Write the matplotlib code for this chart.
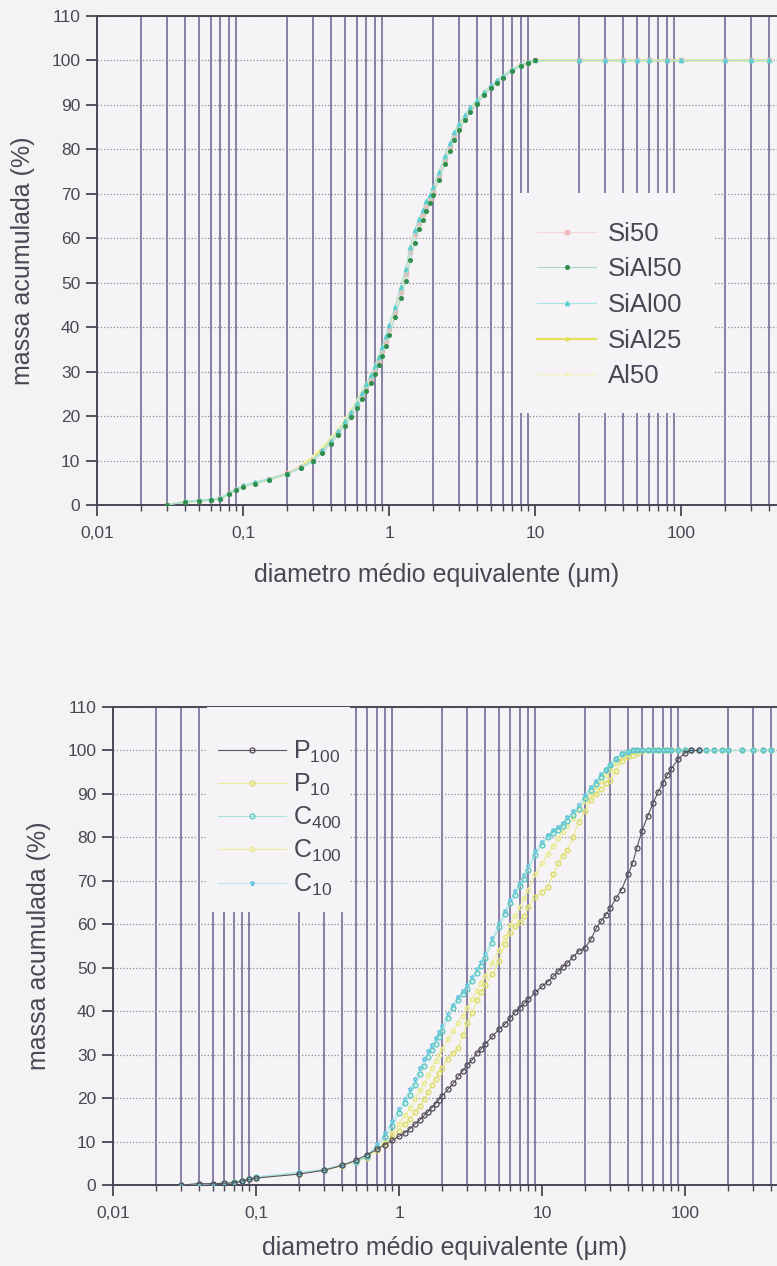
import numpy as np
import matplotlib
matplotlib.use('Agg')
import matplotlib.pyplot as plt
from matplotlib.ticker import LogLocator, FuncFormatter, NullFormatter, MultipleLocator
from matplotlib.patches import Rectangle

plt.rcParams['font.family'] = ['Liberation Sans', 'DejaVu Sans']
plt.rcParams['mathtext.fontset'] = 'custom'
plt.rcParams['mathtext.rm'] = 'Liberation Sans'
plt.rcParams['mathtext.it'] = 'Liberation Sans'
plt.rcParams['mathtext.default'] = 'regular'

nan = np.nan

# ---- painel superior: tamanhos (um) e massa acumulada (%)
tamanho_a = [
    0.03, 0.04, 0.05, 0.06, 0.07, 0.08, 0.09, 0.1, 0.12, 0.15,
    0.2, 0.25, 0.3, 0.35, 0.4, 0.45, 0.5, 0.55, 0.6, 0.65,
    0.7, 0.75, 0.8, 0.85, 0.9, 0.95, 1.0, 1.1, 1.2, 1.3,
    1.4, 1.5, 1.6, 1.7, 1.8, 1.9, 2.0, 2.2, 2.4, 2.6,
    2.8, 3.0, 3.3, 3.6, 4.0, 4.5, 5.0, 5.5, 6.0, 7.0,
    8.0, 9.0, 10, 20, 30, 40, 50, 60, 80, 100,
    200, 300, 400]

si50 = [
    0.0, 0.7, 1.0, 1.2, 1.5, 2.6, 3.6, 4.3, 5.0, 5.8,
    7.2, 8.6, 10.1, 12.2, 14.2, 16.2, 18.3, 20.5, 22.5, 24.6,
    26.5, 28.4, 30.3, 32.5, 34.6, 37.0, 39.5, 43.5, 48.0, 52.0,
    57.0, 61.0, 63.5, 65.5, 67.3, 68.8, 70.5, 74.0, 77.5, 80.5,
    83.0, 85.0, 87.0, 88.8, 90.5, 92.5, 94.0, 95.2, 96.3, 97.8,
    98.9, 99.5, 100, 100, 100, 100, 100, 100, 100, 100,
    100, 100, 100]
sial50 = [
    0.0, 0.6, 0.9, 1.1, 1.4, 2.4, 3.4, 4.1, 4.8, 5.6,
    7.0, 8.3, 9.8, 11.8, 13.8, 15.8, 17.8, 19.8, 21.8, 23.8,
    25.6, 27.5, 29.4, 31.5, 33.6, 35.8, 38.2, 42.2, 46.5, 50.5,
    55.0, 59.0, 62.0, 64.2, 66.2, 68.0, 69.8, 73.2, 76.6, 79.6,
    82.2, 84.3, 86.5, 88.3, 90.2, 92.2, 93.8, 95.0, 96.1, 97.6,
    98.8, 99.4, 100, nan, nan, nan, nan, nan, nan, nan,
    nan, nan, nan]
sial00 = [
    0.0, 0.8, 1.1, 1.3, 1.6, 2.7, 3.7, 4.4, 5.1, 5.9,
    7.0, 8.5, 10.0, 12.3, 14.5, 16.6, 18.8, 21.0, 23.0, 25.2,
    27.2, 29.2, 31.2, 33.4, 35.6, 38.0, 40.5, 44.6, 49.0, 53.2,
    58.0, 61.8, 64.3, 66.4, 68.3, 69.8, 71.5, 75.0, 78.5, 81.4,
    83.8, 85.8, 87.8, 89.5, 91.2, 93.0, 94.4, 95.6, 96.6, 98.0,
    99.0, 99.6, 100, 100, 100, 100, 100, 100, 100, 100,
    100, 100, 100]
sial25 = [
    0.0, 0.7, 1.0, 1.2, 1.5, 2.5, 3.5, 4.2, 5.0, 5.7,
    7.1, 8.8, 10.6, 12.6, 14.6, 16.8, 19.0, 21.2, 23.2, 25.3,
    27.2, 29.0, 31.0, 33.2, 35.3, 37.6, 40.0, 44.0, 48.5, 52.5,
    57.5, 61.3, 63.8, 65.8, 67.6, 69.2, 71.0, 74.5, 78.0, 81.0,
    83.4, 85.4, 87.4, 89.1, 90.8, 92.8, 94.2, 95.4, 96.4, 97.9,
    99.0, 99.5, 100, 100, 100, 100, 100, 100, 100, 100,
    100, 100, 100]
al50 = [
    0.0, 0.7, 1.0, 1.2, 1.5, 2.6, 3.6, 4.3, 5.0, 5.8,
    7.3, 9.0, 11.0, 13.2, 15.3, 17.3, 19.5, 21.5, 23.5, 25.5,
    27.3, 29.2, 31.0, 33.0, 35.0, 37.3, 39.8, 43.8, 48.2, 52.2,
    57.2, 61.2, 63.6, 65.6, 67.4, 69.0, 70.8, 74.2, 77.8, 80.8,
    83.2, 85.2, 87.2, 89.0, 90.6, 92.6, 94.1, 95.3, 96.4, 97.8,
    98.9, 99.5, 100, 100, 100, 100, 100, 100, 100, 100,
    100, 100, 100]

# ---- painel inferior
tamanho_b = [
    0.03, 0.04, 0.05, 0.06, 0.07, 0.08, 0.09, 0.1, 0.2, 0.3,
    0.4, 0.5, 0.6, 0.7, 0.8, 0.9, 1.0, 1.1, 1.2, 1.3,
    1.4, 1.5, 1.6, 1.7, 1.8, 1.9, 2.0, 2.2, 2.4, 2.6,
    2.8, 3.0, 3.25, 3.5, 3.75, 4.0, 4.5, 5.0, 5.5, 6.0,
    6.5, 7.0, 7.5, 8.0, 9.0, 10, 11, 12, 13, 14,
    15, 16.5, 18, 20, 22, 24, 26, 28, 30, 33,
    36, 40, 43, 46, 50, 55, 60, 65, 70, 75,
    80, 90, 100, 110, 125, 140, 160, 180, 200, 250,
    300, 350, 400]

p100 = [
    0.0, 0.3, 0.3, 0.4, 0.5, 0.9, 1.3, 1.6, 2.5, 3.4,
    4.5, 5.7, 7.0, 8.2, 9.3, 10.3, 11.2, 12.0, 13.0, 14.1,
    15.0, 16.0, 16.9, 17.8, 18.7, 19.6, 20.5, 22.0, 23.4, 25.0,
    26.3, 27.6, 28.8, 30.3, 31.3, 32.4, 34.2, 35.8, 37.0, 38.4,
    39.8, 40.8, 41.8, 42.7, 44.3, 45.7, 46.8, 48.0, 49.2, 50.2,
    51.0, 52.5, 53.8, 54.6, 56.5, 59.2, 60.8, 62.2, 63.7, 66.0,
    68.0, 71.5, 74.0, 77.5, 81.5, 85.0, 88.0, 90.5, 92.5, 94.3,
    95.8, 98.0, 99.4, 100, 100, nan, nan, nan, nan, nan,
    nan, nan, nan]
p10 = [
    0.0, 0.2, 0.3, 0.4, 0.6, 1.0, 1.4, 1.7, 2.6, 3.4,
    4.4, 5.3, 6.3, 8.0, 9.5, 11.0, 12.5, 14.0, 15.3, 16.8,
    18.2, 19.8, 21.3, 23.0, 24.5, 25.8, 27.0, 29.0, 30.3, 31.5,
    34.5, 37.3, 39.5, 42.5, 44.5, 46.0, 48.5, 51.5, 55.5, 58.0,
    59.5, 60.5, 62.0, 64.0, 66.2, 67.5, 68.5, 71.5, 74.0, 75.8,
    77.0, 80.0, 83.5, 86.0, 88.5, 90.0, 91.2, 92.5, 93.3, 95.3,
    97.5, 98.5, 99.0, 99.4, 99.8, 100, 100, 100, 100, 100,
    100, 100, 100, 100, 100, 100, 100, 100, 100, 100,
    100, 100, 100]
c400 = [
    0.0, 0.2, 0.3, 0.4, 0.6, 1.0, 1.4, 1.8, 2.8, 3.5,
    4.6, 5.4, 6.4, 8.8, 11.0, 13.5, 16.5, 18.8, 20.8, 23.0,
    25.5, 27.5, 29.5, 31.0, 32.5, 34.0, 35.5, 38.5, 40.8, 42.5,
    44.0, 45.2, 47.0, 48.8, 50.5, 52.3, 55.8, 59.3, 62.3, 64.8,
    66.8, 68.8, 70.5, 72.5, 76.0, 78.3, 80.0, 81.0, 81.8, 82.6,
    83.8, 85.2, 86.5, 89.0, 90.8, 92.3, 94.0, 95.5, 96.6, 98.0,
    99.2, 99.7, 100, 100, 100, 100, 100, 100, 100, 100,
    100, 100, 100, 100, 100, 100, 100, 100, 100, 100,
    100, 100, 100]
c100 = [
    0.0, 0.2, 0.3, 0.4, 0.6, 1.0, 1.4, 1.7, 2.7, 3.5,
    4.5, 5.4, 6.6, 8.4, 10.0, 12.0, 14.0, 16.0, 17.8, 19.8,
    21.8, 23.5, 25.2, 27.0, 28.5, 30.0, 31.3, 33.5, 35.5, 37.3,
    39.0, 40.8, 42.8, 44.6, 46.4, 48.0, 51.0, 54.0, 57.0, 59.8,
    62.0, 64.0, 66.0, 68.0, 71.5, 74.0, 76.2, 78.0, 79.8, 81.3,
    82.6, 84.5, 86.3, 88.3, 90.0, 91.6, 93.0, 94.3, 95.4, 97.0,
    98.3, 99.2, 99.6, 99.9, 100, 100, 100, 100, 100, 100,
    100, 100, 100, 100, 100, 100, 100, 100, 100, 100,
    100, 100, 100]
c10 = [
    0.0, 0.2, 0.3, 0.4, 0.6, 1.0, 1.5, 1.9, 2.9, 3.6,
    4.7, 5.6, 6.8, 9.4, 12.0, 14.8, 17.5, 19.8, 22.0, 24.5,
    27.0, 29.0, 30.8, 32.3, 33.8, 35.2, 36.6, 39.3, 41.5, 43.2,
    44.7, 46.0, 47.8, 49.6, 51.4, 53.2, 56.8, 60.2, 63.0, 65.5,
    67.6, 69.6, 71.4, 73.3, 76.8, 79.0, 80.6, 81.6, 82.5, 83.4,
    84.6, 86.0, 87.4, 89.8, 91.5, 93.0, 94.5, 95.8, 96.9, 98.3,
    99.3, 99.8, 100, 100, 100, 100, 100, 100, 100, 100,
    100, 100, 100, 100, 100, 100, 100, 100, 100, 100,
    100, 100, 100]

FUNDO = '#f3f3f3'
FUNDO_EIXO = '#f5f3f6'
CINZA = '#4b4654'
GRADE_V = '#736d96'
GRADE_H = '#8c8996'

W, H = 777, 1266


def formata(v, pos):
    return f'{v:g}'.replace('.', ',')


def prepara_eixo(ax, x_max, pad_x):
    ax.set_facecolor(FUNDO_EIXO)
    ax.set_xscale('log')
    ax.set_xlim(0.01, x_max)
    ax.set_ylim(0, 110)
    ax.xaxis.set_major_locator(LogLocator(base=10))
    ax.xaxis.set_minor_locator(LogLocator(base=10, subs=np.arange(2, 10)))
    ax.xaxis.set_major_formatter(FuncFormatter(formata))
    ax.xaxis.set_minor_formatter(NullFormatter())
    ax.yaxis.set_major_locator(MultipleLocator(10))
    ax.grid(True, which='minor', axis='x', color=GRADE_V, lw=1.2)
    ax.grid(True, which='major', axis='y', color=GRADE_H, lw=0.9, ls=(0, (1, 1.6)))
    ax.tick_params(which='major', direction='out', length=8, width=1.3,
                   colors=CINZA, labelsize=12.5, pad=4)
    ax.tick_params(axis='x', which='major', pad=7)
    ax.tick_params(axis='x', which='minor', direction='out', length=4,
                   width=1.0, colors=CINZA)
    for lado in ['left', 'bottom', 'top']:
        ax.spines[lado].set_color(CINZA)
        ax.spines[lado].set_linewidth(1.4)
    ax.spines['right'].set_visible(False)
    ax.set_xlabel('diametro médio equivalente (μm)', fontsize=18,
                  color=CINZA, labelpad=pad_x)
    ax.set_ylabel('massa acumulada (%)', fontsize=18, color=CINZA, labelpad=12)


def caixa_legenda(ax, x0, y0, x1, y1):
    # fundo opaco da legenda (esconde a grade por tras)
    ax.add_patch(Rectangle((x0, y0), x1 - x0, y1 - y0, transform=ax.transAxes,
                           facecolor=FUNDO_EIXO, edgecolor='none', zorder=4,
                           clip_on=False))


fig = plt.figure(figsize=(W / 100, H / 100), dpi=100, facecolor=FUNDO)

# ================= painel superior =================
ax1 = fig.add_axes([97 / W, 1 - 505 / H, (W - 97) / W, 489 / H])
prepara_eixo(ax1, 10 ** (-2 + (W - 97) / 146), 16)

ax1.plot(tamanho_a, sial25, '-', color='#e2e25a', lw=1.6, marker='D', ms=2,
         mfc='#e2e25a', mec='#e2e25a', label='SiAl25', zorder=2)
ax1.plot(tamanho_a, al50, '-', color='#f0f2c4', lw=1.0, marker='s', ms=2,
         mfc='#eef0b4', mec='#eef0b4', label='Al50', zorder=2)
ax1.plot(tamanho_a, si50, '-', color='#f4d6d6', lw=0.8, marker='s', ms=2.2,
         mfc='#f0b8b8', mec='#f0b8b8', label='Si50', zorder=2)
ax1.plot(tamanho_a, sial00, '-', color='#a6e6e2', lw=0.9, marker='^', ms=3,
         mfc='#5ccfd0', mec='#5ccfd0', label='SiAl00', zorder=3)
ax1.plot(tamanho_a, sial50, '-', color='#a8dcc8', lw=0.8, marker='o', ms=2.6,
         mfc='#2f8f4e', mec='#2f8f4e', label='SiAl50', zorder=3)

caixa_legenda(ax1, (513 - 97) / (W - 97), (505 - 413) / 489,
              (715 - 97) / (W - 97), (505 - 193) / 489)
h, l = ax1.get_legend_handles_labels()
ordem = ['Si50', 'SiAl50', 'SiAl00', 'SiAl25', 'Al50']
hs = [h[l.index(n)] for n in ordem]
leg1 = ax1.legend(hs, ordem, loc='center left',
                  bbox_to_anchor=((537 - 97) / (W - 97), (505 - 305) / 489),
                  borderaxespad=0, borderpad=0, frameon=False, fontsize=18.5,
                  labelcolor=CINZA, handlelength=2.3, handletextpad=0.45,
                  labelspacing=0.45, numpoints=1)
leg1.set_zorder(5)

# ================= painel inferior =================
ax2 = fig.add_axes([113 / W, 1 - 1185 / H, (W - 113) / W, 478 / H])
prepara_eixo(ax2, 10 ** (-2 + (W - 113) / 143), 11)

ax2.plot(tamanho_b, c100, '-', color='#eeee9c', lw=0.8, marker='o', ms=3,
         mfc='none', mec='#eaea8c', label='C$_{100}$', zorder=2)
ax2.plot(tamanho_b, p10, '-', color='#ecec90', lw=0.8, marker='o', ms=3.4,
         mfc='none', mec='#dcdc6a', label='P$_{10}$', zorder=2)
ax2.plot(tamanho_b, c10, '-', color='#b6e8f0', lw=0.8, marker='*', ms=3.6,
         mfc='none', mec='#62c4e2', label='C$_{10}$', zorder=3)
ax2.plot(tamanho_b, c400, '-', color='#a8e4dc', lw=0.8, marker='o', ms=3.4,
         mfc='none', mec='#5cc8c4', label='C$_{400}$', zorder=3)
ax2.plot(tamanho_b, p100, '-', color='#5a5560', lw=0.8, marker='o', ms=3.6,
         mfc='none', mec='#4f4a56', mew=0.9, label='P$_{100}$', zorder=3)

caixa_legenda(ax2, (207 - 113) / (W - 113), (1185 - 912) / 478,
              (350 - 113) / (W - 113), 1.0)
h, l = ax2.get_legend_handles_labels()
ordem = ['P$_{100}$', 'P$_{10}$', 'C$_{400}$', 'C$_{100}$', 'C$_{10}$']
hs = [h[l.index(n)] for n in ordem]
leg2 = ax2.legend(hs, ordem, loc='center left',
                  bbox_to_anchor=((218 - 113) / (W - 113), (1185 - 818) / 478),
                  borderaxespad=0, borderpad=0, frameon=False, fontsize=18,
                  labelcolor=CINZA, handlelength=2.7, handletextpad=0.3,
                  labelspacing=0.28, numpoints=1)
leg2.set_zorder(5)

fig.savefig('out.png', dpi=100, facecolor=FUNDO)
